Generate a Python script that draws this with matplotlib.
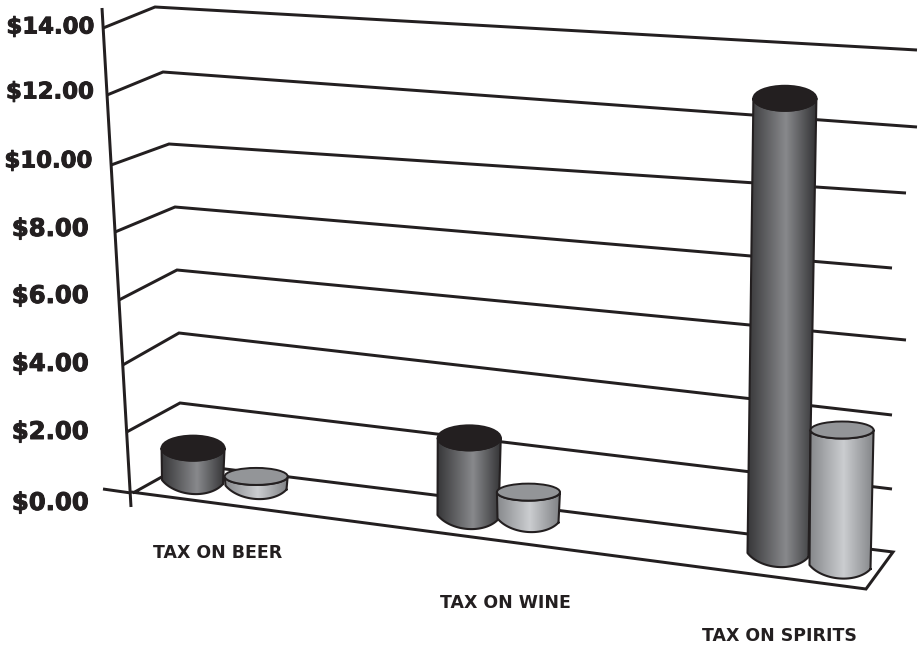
import numpy as np
import matplotlib
matplotlib.use("Agg")
import matplotlib.pyplot as plt
import matplotlib.patheffects as pe
from matplotlib.path import Path
from matplotlib.patches import PathPatch, Ellipse
from matplotlib.colors import LinearSegmentedColormap

# ---------- data ----------
categories = ["TAX ON BEER", "TAX ON WINE", "TAX ON SPIRITS"]
series_dark = [1.02, 2.28, 12.55]
series_light = [0.33, 0.81, 3.73]
tick_values = [0, 2, 4, 6, 8, 10, 12, 14]
tick_labels = ["$0.00", "$2.00", "$4.00", "$6.00", "$8.00", "$10.00", "$12.00", "$14.00"]

# ---------- perspective scale (pixel calibration of the pseudo-3D frame) ----------
INK = "#231f20"
W, H = 922, 649
grid_v = np.array([2, 4, 6, 8, 10, 12, 14])
axis_y_at = np.array([432, 365, 300, 232, 165, 95, 28])
wall_x_at = np.array([180, 179, 177, 175, 169, 163, 155])
wall_y_at = np.array([403, 333, 270, 207, 144, 72, 7])
end_x_at = np.array([892, 892, 906, 892, 906, 917, 917])
end_y_at = np.array([489, 415, 340, 268, 193, 127, 50])


def axis_x(y):
    return 102 + (y - 8) * 0.0582


def px_per_unit(x):
    return 33 + (x - 150) * 4 / 740


fig = plt.figure(figsize=(W / 100, H / 100), dpi=100, facecolor="white")
ax = fig.add_axes([0, 0, 1, 1])
ax.axis("off")

LW = 2.15
line = dict(color=INK, lw=LW, solid_capstyle="butt", solid_joinstyle="miter", zorder=2)

# vertical axis and floor
ax.plot([102, 131], [8, 507], **line)
ax.plot([103, 131], [489, 493], **line)
ax.plot([131, 866, 893, 185, 133], [492, 589, 552, 464, 493], **line)

# gridlines
for v, ay, wx, wy, ex, ey in zip(grid_v, axis_y_at, wall_x_at, wall_y_at, end_x_at, end_y_at):
    ax.plot([axis_x(ay), wx, ex], [ay, wy, ey], **line)

# ---------- cylinders ----------
cmap_dark = LinearSegmentedColormap.from_list("d", [(0, "#38383a"), (0.55, "#88898c"), (1, "#313133")])
cmap_light = LinearSegmentedColormap.from_list("l", [(0, "#87898c"), (0.52, "#cbcdd0"), (1, "#808285")])
grad = np.linspace(0, 1, 256).reshape(1, -1)

base_x_dark = [192.5, 468, 778]
base_y_dark = [482, 517, 555]
base_x_light = [256, 528, 840]
base_y_light = [487.5, 520.5, 567]
ARC = 0.5


def bottom_arc(cx, cy, rx, ry, tilt, n=40):
    t = np.linspace(ARC, np.pi - ARC, n)
    x = cx + rx / np.cos(ARC) * np.cos(t)
    y = cy + ry * (np.sin(t) - np.sin(ARC)) / (1 - np.sin(ARC)) + tilt * np.cos(t) / np.cos(ARC)
    return x, y


def top_arc(cx, cy, rx, ry, n=40):
    t = np.linspace(np.pi, 0, n)
    return cx + rx * np.cos(t), cy + ry * np.sin(t)


def cylinder(value, bx, by, rx_top, ry_top, rx_bot, ry_bot, tilt, cmap, top_color, z):
    top_y = by - value * px_per_unit(bx)
    top_x = bx + 0.55 * value
    bxs, bys = bottom_arc(bx, by, rx_bot, ry_bot, tilt)
    txs, tys = top_arc(top_x, top_y, rx_top, ry_top)
    xs = np.r_[bxs, txs, bxs[0]]
    ys = np.r_[bys, tys, bys[0]]
    side = PathPatch(Path(np.c_[xs, ys]), facecolor="none", edgecolor="none", zorder=z)
    ax.add_patch(side)
    im = ax.imshow(grad, cmap=cmap, aspect="auto", zorder=z,
                   extent=[min(bx - rx_bot, top_x - rx_top), max(bx + rx_bot, top_x + rx_top),
                           by + ry_bot + 5, top_y - 2], interpolation="bilinear")
    im.set_clip_path(side)
    ax.plot(xs, ys, color=INK, lw=1.5, zorder=z + 0.1, solid_joinstyle="round")
    ax.add_patch(Ellipse((top_x, top_y), 2 * rx_top, 2 * ry_top, facecolor=top_color,
                         edgecolor=INK, lw=1.4, zorder=z + 0.2))


for i in range(len(categories)):
    cylinder(series_dark[i], base_x_dark[i], base_y_dark[i], 31.5, 12.5, 30.5, 12, 2.0,
             cmap_dark, "#231f20", 3 + i)
    cylinder(series_light[i], base_x_light[i], base_y_light[i], 31.5, 8.5, 30.5, 11.5, 2.0,
             cmap_light, "#939598", 3.5 + i)

# ---------- text ----------
label_x = [50, 50, 50, 50, 50, 48.5, 50, 50.5]
label_y = [503, 432, 364, 296, 229, 161, 92, 27]
heavy = [pe.withStroke(linewidth=0.7, foreground=INK)]
for lx, ly, t in zip(label_x, label_y, tick_labels):
    ax.text(lx, ly, t, family="DejaVu Sans", fontweight="bold",
            fontsize=16.4 if len(t) > 5 else 17.5, color=INK,
            ha="center", va="center", path_effects=heavy)

cat_x = [218, 505, 779]
cat_y = [553, 603, 636]
for cx, cy, c in zip(cat_x, cat_y, categories):
    ax.text(cx, cy, c, family="DejaVu Sans", fontweight="bold", fontsize=12.5, color=INK,
            ha="center", va="center")

ax.set_xlim(0, W)
ax.set_ylim(H, 0)
fig.savefig("out.png", dpi=100)
